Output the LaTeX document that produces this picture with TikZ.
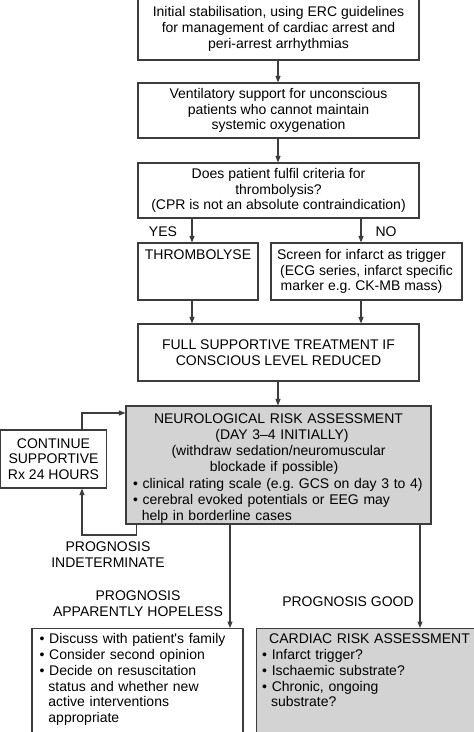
\documentclass[tikz,border=0pt]{standalone}
\usepackage{fontspec}
\setmainfont{Liberation Sans}
\usetikzlibrary{arrows.meta}
\definecolor{ln}{HTML}{3C3C3C}
\definecolor{gr}{HTML}{D3D3D3}
\newcommand{\bul}[1]{\hangindent=8.8pt\hangafter=1 \textbullet\ #1\par}
\begin{document}
\frenchspacing
\begin{tikzpicture}[x=1pt,y=-1pt,
  every node/.style={font=\fontsize{14}{15.8}\selectfont\frenchspacing, text=black},
  box/.style={draw=ln, line width=1.1pt, fill=white, inner sep=0pt, align=center},
  grey/.style={draw=ln, line width=1.1pt, fill=gr, inner sep=0pt},
  lbl/.style={align=center, inner sep=0pt},
  arr/.style={draw=ln, line width=1.1pt, -{Triangle[length=6.5pt,width=5pt]}},
  con/.style={draw=ln, line width=1.1pt}]
\useasboundingbox (0,0) rectangle (474,732);
\clip (0,0) rectangle (474,732);

\node[box, minimum width=281pt, minimum height=62pt] (b1) at (278.5,29) {Initial stabilisation, using ERC guidelines\\for management of cardiac arrest and\\peri-arrest arrhythmias};
\node[box, minimum width=281pt, minimum height=55pt] (b2) at (278.5,110.5) {Ventilatory support for unconscious\\patients who cannot maintain\\systemic oxygenation};
\node[box, minimum width=281pt, minimum height=55pt] (b3) at (278.5,190.5) {Does patient fulfil criteria for\\thrombolysis?\\(CPR is not an absolute contraindication)};
\node[box, minimum width=120pt, minimum height=57pt] (thr) at (198,271.5) {\raisebox{-2pt}{THROMBOLYSE}\\\strut\\\strut};
\node[box, minimum width=191pt, minimum height=57pt] (scr) at (366.5,271.5) {Screen for infarct as trigger\hspace*{10pt}\\(ECG series, infarct specific\hspace*{10pt}\\marker e.g. CK-MB mass)\hspace*{10pt}};
\node[box, minimum width=281pt, minimum height=57pt] (full) at (278.5,352.5) {FULL SUPPORTIVE TREATMENT IF\\CONSCIOUS LEVEL REDUCED};
\node[grey, minimum width=305pt, minimum height=118pt, text width=291pt] (neuro) at (278.5,465) {\centering NEUROLOGICAL RISK ASSESSMENT\\\hspace*{7pt}(DAY 3–4 INITIALLY)\\(withdraw sedation/neuromuscular\hspace*{18pt}\\blockade if possible)\hspace*{9pt}\par
\vspace{1.5pt}\raggedright
\bul{clinical rating scale (e.g. GCS on day 3 to 4)}
\bul{cerebral evoked potentials or EEG may\newline help in borderline cases}
\vspace{-7pt}};
\node[box, minimum width=106pt, minimum height=58pt] (cont) at (53.5,459) {CONTINUE\\SUPPORTIVE\\Rx 24 HOURS};

\node[box, minimum width=211pt, minimum height=150pt, anchor=north] (bl) at (137.5,628) {};
\node[inner sep=0pt, anchor=north west, text width=200pt] (blt) at ([xshift=8pt,yshift=-4.5pt]bl.north west)
{\raggedright\strut
\bul{Discuss with patient\textquotesingle s family}
\bul{Consider second opinion}
\bul{Decide on resuscitation\newline status and whether new\newline active interventions\newline appropriate}};
\node[grey, minimum width=230pt, minimum height=150pt, anchor=north west] (br) at (256,628) {};
\node[inner sep=0pt, anchor=north west, text width=210pt] (brt) at ([xshift=6pt,yshift=-4.5pt]br.north west)
{\raggedright\strut\hspace*{7pt}CARDIAC RISK ASSESSMENT\par
\bul{Infarct trigger?}
\bul{Ischaemic substrate?}
\bul{Chronic, ongoing\newline substrate?}};

\node[lbl] (yes) at (163,232) {YES};
\node[lbl] (no) at (386,232) {NO};
\node[lbl] (pind) at (108,555) {PROGNOSIS\\INDETERMINATE};
\node[lbl] (phop) at (138,604) {PROGNOSIS\\APPARENTLY HOPELESS};
\node[lbl] (pgood) at (348,602) {PROGNOSIS GOOD};

\coordinate (fb1) at (82,535);
\coordinate (fb2) at (82,413);

\draw[arr] ([xshift=-0.5pt]b1.south) -- ([xshift=-0.5pt]b2.north);
\draw[arr] ([xshift=-0.5pt]b2.south) -- ([xshift=-0.5pt]b3.north);
\draw[arr] ([xshift=-6pt]thr.north |- b3.south) -- ([xshift=-6pt]thr.north);
\draw[arr] ([xshift=-5.5pt]scr.north |- b3.south) -- ([xshift=-5.5pt]scr.north);
\draw[arr] ([xshift=-6pt]thr.south) -- ([xshift=-6pt]thr.south |- full.north);
\draw[arr] ([xshift=-5.5pt]scr.south) -- ([xshift=-5.5pt]scr.south |- full.north);
\draw[arr] ([xshift=-0.5pt]full.south) -- ([xshift=-0.5pt]neuro.north);
\draw[arr] ([xshift=11pt]neuro.south west) |- (fb1) -- (fb1 |- cont.south);
\draw[arr] (fb2 |- cont.north) -- (fb2) -- (fb2 -| neuro.west);
\draw[arr] (230,0 |- neuro.south) -- (230,0 |- bl.north);
\draw[arr] (420,0 |- neuro.south) -- (420,0 |- br.north);
\end{tikzpicture}
\end{document}
